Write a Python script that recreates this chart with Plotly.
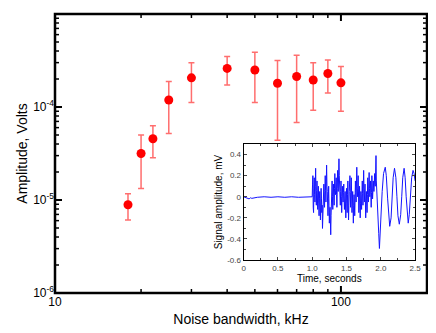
import plotly.graph_objects as go

# main plot: amplitude vs noise bandwidth
bandwidth_khz = [18, 20, 22, 25, 30, 40, 50, 60, 70, 80, 90, 100]
amplitude_v = [8.9e-6, 3.16e-5, 4.56e-5, 1.19e-4, 2.06e-4, 2.6e-4,
               2.5e-4, 1.8e-4, 2.13e-4, 1.95e-4, 2.29e-4, 1.82e-4]
amp_upper = [1.17e-5, 5.0e-5, 6.3e-5, 1.88e-4, 3.0e-4, 3.5e-4,
             3.89e-4, 3.17e-4, 3.6e-4, 3.0e-4, 3.2e-4, 2.73e-4]
amp_lower = [6.1e-6, 1.33e-5, 2.85e-5, 5.2e-5, 1.12e-4, 1.72e-4,
             1.12e-4, 4.4e-5, 6.8e-5, 9.2e-5, 1.41e-4, 9.0e-5]

y_tickvals = [1e-6, 1e-5, 1e-4, 1e-3]
y_ticktext = ["10<sup>-6</sup>", "10<sup>-5</sup>", "10<sup>-4</sup>", "10<sup>-3</sup>"]
y_minor = [2e-6, 3e-6, 4e-6, 5e-6, 6e-6, 7e-6, 8e-6, 9e-6,
           2e-5, 3e-5, 4e-5, 5e-5, 6e-5, 7e-5, 8e-5, 9e-5,
           2e-4, 3e-4, 4e-4, 5e-4, 6e-4, 7e-4, 8e-4, 9e-4]
x_tickvals = [10, 100]
x_ticktext = ["10", "100"]
x_minor = [20, 30, 40, 50, 60, 70, 80, 90, 200]

# inset: signal trace
sig_t = [0.0, 0.03, 0.06, 0.08, 0.10, 0.12, 0.2, 0.3, 0.4, 0.5, 0.6, 0.7, 0.8, 0.9, 0.99,
         1.000, 1.005, 1.010, 1.015, 1.020, 1.025, 1.030, 1.035, 1.040, 1.045,
         1.050, 1.055, 1.060, 1.065, 1.070, 1.075, 1.080, 1.085, 1.090, 1.095,
         1.100, 1.105, 1.110, 1.115, 1.120, 1.125, 1.130, 1.135, 1.140, 1.145,
         1.150, 1.155, 1.160, 1.165, 1.170, 1.175, 1.180, 1.185, 1.190, 1.195,
         1.200, 1.205, 1.210, 1.215, 1.220, 1.225, 1.230, 1.235, 1.240, 1.245,
         1.250, 1.255, 1.260, 1.265, 1.270, 1.275, 1.280, 1.285, 1.290, 1.295,
         1.300, 1.305, 1.310, 1.315, 1.320, 1.325, 1.330, 1.335, 1.340, 1.345,
         1.350, 1.355, 1.360, 1.365, 1.370, 1.375, 1.380, 1.385, 1.390, 1.395,
         1.400, 1.405, 1.410, 1.415, 1.420, 1.425, 1.430, 1.435, 1.440, 1.445,
         1.450, 1.455, 1.460, 1.465, 1.470, 1.475, 1.480, 1.485, 1.490, 1.495,
         1.500, 1.505, 1.510, 1.515, 1.520, 1.525, 1.530, 1.535, 1.540, 1.545,
         1.550, 1.555, 1.560, 1.565, 1.570, 1.575, 1.580, 1.585, 1.590, 1.595,
         1.600, 1.605, 1.610, 1.615, 1.620, 1.625, 1.630, 1.635, 1.640, 1.645,
         1.650, 1.655, 1.660, 1.665, 1.670, 1.675, 1.680, 1.685, 1.690, 1.695,
         1.700, 1.705, 1.710, 1.715, 1.720, 1.725, 1.730, 1.735, 1.740, 1.745,
         1.750, 1.755, 1.760, 1.765, 1.770, 1.775, 1.780, 1.785, 1.790, 1.795,
         1.800, 1.805, 1.810, 1.815, 1.820, 1.825, 1.830, 1.835, 1.840, 1.845,
         1.850, 1.855, 1.860, 1.865, 1.870, 1.875, 1.880, 1.885, 1.890, 1.895,
         1.900, 1.905, 1.910, 1.915, 1.920, 1.925, 1.930, 1.935, 1.940, 1.945,
         1.950, 1.96, 1.97, 1.98, 1.99,
         2.00, 2.02, 2.04, 2.065, 2.08, 2.10, 2.115, 2.13, 2.15, 2.165,
         2.18, 2.20, 2.22, 2.235, 2.25, 2.27, 2.29, 2.305, 2.32, 2.34,
         2.355, 2.37, 2.385, 2.40, 2.415, 2.43, 2.45, 2.47, 2.485, 2.50]
sig_mv = [0.0, -0.005, -0.01, -0.02, -0.01, -0.015, -0.005, 0.0, -0.005, 0.0, -0.005, 0.0, -0.005, 0.0, 0.0,
          0.0, 0.12, 0.20, -0.10, -0.15, 0.08, 0.18, 0.02, -0.05, 0.10,
          0.27, 0.05, -0.08, 0.06, 0.15, -0.04, -0.12, 0.03, 0.10, -0.06,
          -0.18, -0.02, 0.05, -0.10, -0.22, -0.05, 0.08, -0.02, -0.15, -0.08,
          -0.30, -0.12, 0.02, 0.08, 0.12, -0.02, -0.10, 0.05, 0.20, 0.06,
          -0.05, 0.12, 0.30, 0.10, 0.05, -0.06, -0.18, -0.02, 0.10, -0.08,
          -0.25, -0.15, -0.10, -0.20, -0.36, -0.18, -0.05, 0.06, 0.15, 0.00,
          -0.12, 0.02, 0.12, -0.02, -0.08, 0.08, 0.22, 0.06, 0.02, 0.10,
          0.18, 0.02, -0.10, 0.08, 0.25, 0.12, 0.05, 0.18, 0.36, 0.20,
          0.10, 0.02, -0.08, 0.05, 0.15, 0.00, -0.15, -0.02, 0.10, 0.02,
          -0.05, 0.04, 0.12, -0.02, -0.12, -0.03, 0.05, -0.08, -0.20, -0.06,
          0.08, -0.04, -0.15, 0.02, 0.15, -0.05, -0.22, -0.08, 0.05, 0.12,
          0.20, 0.04, -0.10, 0.05, 0.18, 0.02, -0.15, -0.05, 0.05, -0.10,
          -0.25, -0.08, 0.02, -0.06, -0.18, -0.02, 0.15, 0.04, -0.05, 0.10,
          0.28, 0.10, 0.00, 0.08, 0.20, 0.02, -0.15, -0.03, 0.10, -0.05,
          -0.20, -0.06, 0.05, -0.03, -0.12, 0.02, 0.15, 0.03, -0.08, 0.08,
          0.25, 0.08, -0.05, 0.03, 0.12, -0.04, -0.20, -0.06, 0.05, -0.05,
          -0.15, 0.02, 0.18, 0.04, -0.05, 0.08, 0.23, 0.08, 0.00, 0.06,
          0.15, 0.02, -0.10, 0.04, 0.20, 0.06, -0.02, 0.05, 0.15, 0.08,
          0.05, 0.12, 0.22, 0.12, 0.10, 0.20, 0.39, 0.15, 0.05, 0.00,
          -0.05, -0.20, -0.35, -0.49, -0.40,
          -0.22, 0.05, 0.22, 0.28, 0.20, -0.02, -0.20, -0.28, -0.20, 0.00,
          0.18, 0.27, 0.18, 0.00, -0.18, -0.26, -0.17, 0.00, 0.18, 0.27,
          0.18, 0.00, -0.17, -0.25, -0.17, 0.00, 0.18, 0.25, 0.22, 0.15]

inset_x_tickvals = [0, 0.5, 1.0, 1.5, 2.0, 2.5]
inset_x_ticktext = ["0", "0.5", "1.0", "1.5", "2.0", "2.5"]
inset_y_tickvals = [-0.6, -0.4, -0.2, 0, 0.2, 0.4]
inset_y_ticktext = ["-0.6", "-0.4", "-0.2", "0", "0.2", "0.4"]

fig = go.Figure()

fig.add_trace(go.Scatter(
    x=bandwidth_khz, y=amplitude_v, mode="markers",
    marker=dict(color="#ff0000", size=9),
    error_y=dict(type="data", symmetric=False,
                 array=[u - a for u, a in zip(amp_upper, amplitude_v)],
                 arrayminus=[a - l for a, l in zip(amplitude_v, amp_lower)],
                 color="rgb(255,110,110)", thickness=1.5, width=3),
    showlegend=False))

fig.add_trace(go.Scatter(
    x=sig_t, y=sig_mv, mode="lines", xaxis="x2", yaxis="y2",
    line=dict(color="rgb(20,20,255)", width=1),
    showlegend=False))

font = "Liberation Sans, Arial, sans-serif"

# frame + ticks of the main plot as shapes (axis lines did not show up)
shapes = [dict(type="rect", xref="x domain", yref="y domain", x0=0, x1=1, y0=0, y1=1,
               line=dict(color="black", width=2.5), layer="above")]
for vals, ln, w in ((x_tickvals, 7, 2), (x_minor, 4, 1.5)):
    for v in vals:
        for side, sign in ((0, 1), (1, -1)):
            shapes.append(dict(type="line", xref="x", yref="y domain", ysizemode="pixel",
                               yanchor=side, x0=v, x1=v, y0=0, y1=sign * ln,
                               line=dict(color="black", width=w), layer="above"))
for vals, ln, w in ((y_tickvals, 7, 2), (y_minor, 4, 1.5)):
    for v in vals:
        for side, sign in ((0, 1), (1, -1)):
            shapes.append(dict(type="line", yref="y", xref="x domain", xsizemode="pixel",
                               xanchor=side, y0=v, y1=v, x0=0, x1=sign * ln,
                               line=dict(color="black", width=w), layer="above"))

# page body has an 8px margin, so the figure is 8px smaller than the window
fig.update_layout(
    width=428, height=325,
    margin=dict(l=47, r=3, t=6, b=40),
    paper_bgcolor="white", plot_bgcolor="white",
    font=dict(family=font, color="black"),
    shapes=shapes,
    xaxis=dict(
        type="log", range=[1, 2.301],
        tickvals=x_tickvals, ticktext=x_ticktext,
        ticks="", showline=False,
        showgrid=False, zeroline=False,
        tickfont=dict(size=12),
        title=dict(text="Noise bandwidth, kHz", font=dict(size=14), standoff=6),
    ),
    yaxis=dict(
        type="log", range=[-6, -3],
        tickvals=y_tickvals, ticktext=y_ticktext,
        ticks="", showline=False,
        showgrid=False, zeroline=False,
        tickfont=dict(size=12),
        title=dict(text="Amplitude, Volts", font=dict(size=14), standoff=2),
    ),
    xaxis2=dict(
        domain=[0.507, 0.968], anchor="y2", range=[0, 2.5],
        tickvals=inset_x_tickvals, ticktext=inset_x_ticktext,
        ticks="inside", ticklen=3, tickwidth=1,
        minor=dict(dtick=0.25, ticks="inside", ticklen=2, tickwidth=1),
        showline=True, linewidth=1, linecolor="black", mirror="ticks",
        showgrid=False, zeroline=False,
        tickfont=dict(size=8, color="#444"),
        title=dict(text="Time, seconds", font=dict(size=10), standoff=2),
    ),
    yaxis2=dict(
        domain=[0.118, 0.534], anchor="x2", range=[-0.6, 0.5],
        tickvals=inset_y_tickvals, ticktext=inset_y_ticktext,
        ticks="inside", ticklen=3, tickwidth=1,
        minor=dict(dtick=0.1, ticks="inside", ticklen=2, tickwidth=1),
        showline=True, linewidth=1, linecolor="black", mirror="ticks",
        showgrid=False, zeroline=False,
        tickfont=dict(size=8, color="#444"),
        title=dict(text="Signal amplitude, mV", font=dict(size=10), standoff=2),
    ),
)

fig.write_html("out.html")
